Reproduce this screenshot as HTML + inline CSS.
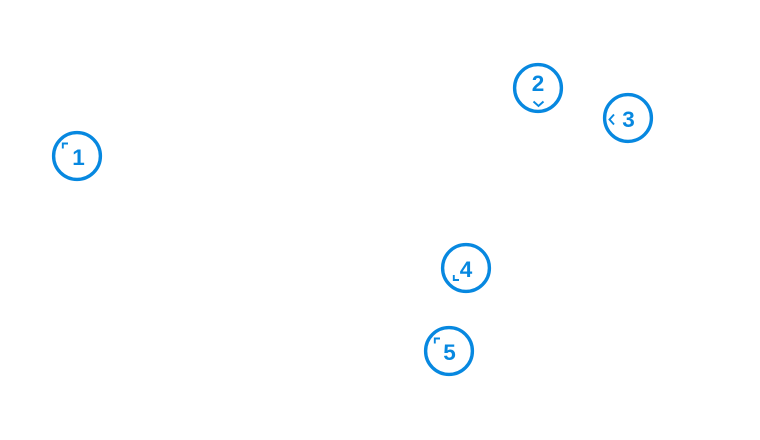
<!DOCTYPE html>
<html>
<head>
<meta charset="utf-8">
<style>
  html, body { margin: 0; padding: 0; background: #ffffff; }
  svg { display: block; }
  text { font-family: "Liberation Sans", sans-serif; font-weight: bold; font-size: 22.5px; fill: #0788e0; }
</style>
</head>
<body>
<svg width="760" height="440" viewBox="0 0 760 440" xmlns="http://www.w3.org/2000/svg">
  <rect width="760" height="440" fill="#ffffff"/>
  <g fill="none" stroke="#0788e0" stroke-width="3.4">
    <circle cx="77" cy="156" r="23.4"/>
    <circle cx="538" cy="88" r="23.4"/>
    <circle cx="628" cy="118" r="23.4"/>
    <circle cx="466" cy="268" r="23.4"/>
    <circle cx="449" cy="351" r="23.4"/>
  </g>
  <g fill="none" stroke="#0788e0" stroke-width="1.9">
    <!-- 1 corner -->
    <polyline points="62.8,148.5 62.8,143.5 68,143.5"/>
    <!-- 2 chevron down -->
    <polyline points="533.5,101.5 538.5,106 543.5,101.5"/>
    <!-- 3 chevron left -->
    <polyline points="614,114.5 609.5,119.5 614,124.5"/>
    <!-- 4 corner -->
    <polyline points="453.8,275 453.8,280 459,280"/>
    <!-- 5 corner -->
    <polyline points="434.8,343.5 434.8,338.5 440,338.5"/>
  </g>
  <text x="78.5" y="165" text-anchor="middle">1</text>
  <text x="538" y="91" text-anchor="middle">2</text>
  <text x="628.5" y="127" text-anchor="middle">3</text>
  <text x="466" y="277" text-anchor="middle">4</text>
  <text x="449.5" y="360" text-anchor="middle">5</text>
</svg>
</body>
</html>
